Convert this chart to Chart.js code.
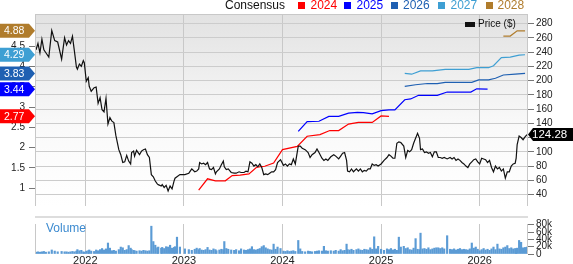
<!DOCTYPE html>
<html>
<head>
<meta charset="utf-8">
<script src="https://cdn.jsdelivr.net/npm/chart.js@4.4.0/dist/chart.umd.min.js"></script>
<style>
body{margin:0;background:#fff;font-family:Arial,"Liberation Sans",sans-serif;}
#wrap{position:relative;width:573px;height:264px;overflow:hidden}
#priceBox{position:absolute;left:0;top:0;width:573px;height:216px}
#volBox{position:absolute;left:0;top:216px;width:573px;height:48px}
#sep{position:absolute;left:35px;top:216px;width:493px;height:2px;background:#dddddd}
.lg{position:absolute;top:-1px;font-size:12px;line-height:12px;white-space:nowrap}
.sq{position:absolute;top:2px;width:7px;height:7px}
#priceLg{position:absolute;left:478px;top:19px;font-size:10px;line-height:10px;color:#111}
#priceSq{position:absolute;left:465px;top:22px;width:10px;height:5px;background:#111}
#volLabel{position:absolute;left:46px;top:222px;font-size:12px;line-height:12px;color:#3d8bd0}
</style>
</head>
<body>
<div id="wrap">
  <div id="priceBox"><canvas id="priceChart"></canvas></div>
  <div id="volBox"><canvas id="volChart"></canvas></div>
  <div id="sep"></div>
  <div id="volLabel">Volume</div>
  <div id="priceSq"></div><div id="priceLg">Price ($)</div>
  <div class="lg" style="left:225px;color:#111">Consensus</div>
  <div class="sq" style="left:298px;background:#ff0000"></div><div class="lg" style="left:310.5px;color:#ff0000">2024</div>
  <div class="sq" style="left:344px;background:#0000ff"></div><div class="lg" style="left:356.5px;color:#0000ff">2025</div>
  <div class="sq" style="left:391px;background:#1f60b2"></div><div class="lg" style="left:403px;color:#1f60b2">2026</div>
  <div class="sq" style="left:437.5px;background:#3e9fd3"></div><div class="lg" style="left:450.5px;color:#3e9fd3">2027</div>
  <div class="sq" style="left:486px;background:#b07c2c"></div><div class="lg" style="left:497.5px;color:#b07c2c">2028</div>
</div>
<script>
// weekly closes (decimal years)
const priceDates = [
2021.50,2021.52,2021.54,2021.56,2021.58,2021.60,2021.63,2021.66,2021.69,2021.72,2021.76,2021.79,
2021.81,2021.83,2021.85,2021.87,2021.89,2021.91,2021.92,2021.94,2021.96,2021.98,2021.99,
2022.01,2022.03,2022.04,2022.06,2022.09,2022.11,2022.13,2022.15,2022.17,2022.19,2022.21,2022.23,2022.25,2022.27,2022.29,2022.31,2022.34,
2022.36,2022.38,2022.40,2022.42,2022.44,2022.46,2022.47,2022.49,2022.50,2022.52,
2022.55,2022.57,2022.59,2022.61,2022.63,2022.65,
2022.67,2022.69,2022.71,2022.73,2022.74,2022.77,2022.78,2022.80,2022.82,2022.84,2022.86,2022.88,2022.90,2022.91,2022.93,2022.96,2023.01,2023.05,
2023.08,2023.11,2023.13,2023.15,2023.16,2023.18,2023.20,2023.22,2023.24,2023.26,2023.28,2023.30,2023.32,2023.33,2023.36,2023.38,
2023.40,2023.41,2023.43,2023.45,2023.48,
2023.51,2023.53,2023.56,2023.58,2023.61,2023.63,2023.65,2023.67,2023.69,2023.71,2023.73,2023.75,2023.77,2023.79,2023.81,
2023.83,2023.85,2023.87,2023.89,2023.91,2023.93,2023.95,2023.98,
2024.01,2024.03,2024.05,2024.07,2024.09,2024.11,2024.13,
2024.16,2024.18,
2024.20,2024.23,2024.26,2024.28,2024.30,2024.33,2024.35,
2024.37,2024.40,2024.42,
2024.44,2024.46,2024.49,2024.52,2024.54,2024.57,2024.59,2024.61,2024.63,
2024.65,
2024.66,2024.68,2024.70,2024.72,2024.75,2024.77,2024.79,2024.81,2024.83,2024.85,2024.87,2024.89,
2024.91,2024.93,2024.95,2024.97,
2025.00,2025.03,2025.06,2025.08,2025.10,2025.12,2025.14,2025.16,
2025.18,2025.20,2025.23,2025.25,2025.27,2025.29,2025.31,2025.33,2025.35,2025.37,2025.39,
2025.40,2025.42,
2025.44,2025.46,2025.48,2025.50,2025.52,2025.54,2025.56,2025.58,2025.60,2025.62,2025.64,2025.67,
2025.70,2025.72,2025.74,2025.76,2025.78,2025.80,2025.82,2025.84,2025.86,2025.88,2025.90,2025.92,2025.94,
2025.96,2025.98,2026.00,
2026.02,2026.04,2026.06,2026.08,2026.10,2026.12,
2026.14,2026.16,2026.18,2026.20,2026.22,2026.24,2026.26,2026.28,2026.30,2026.32,2026.34,2026.36,2026.37,2026.38,2026.40,2026.42,2026.44,2026.46,2026.48
];
const priceValues = [
243,252,239,258,243,239,233,270,256,254,230,260,
250,256,252,262,241,219,216,223,220,228,225,
199,204,192,185,190,191,168,176,159,156,175,139,148,143,141,123,103,
96,85,86,95,87,83,99,101,94,102,
96,101,103,104,96,92,
68,65,59,55,54,52,54,50,53,45,52,48,59,63,65,68,68,70,
76,72,73,76,85,83,84,82,85,76,75,78,69,72,76,82,
87,79,75,76,71,
70,70,72,71,71,73,72,86,84,80,82,79,83,78,68,
69,68,70,72,72,75,85,89,
81,83,80,83,82,90,83,
108,108,
105,103,99,92,96,99,104,
99,91,88,
90,88,93,96,94,90,94,98,99,
88,
73,72,76,72,76,73,76,72,74,73,76,76,
83,81,82,80,
83,88,92,96,94,91,91,112,
114,113,108,92,102,100,103,112,119,126,119,
103,104,
99,100,98,99,93,100,100,92,92,91,92,90,
92,90,92,88,90,88,85,83,80,78,83,86,89,
90,86,83,
91,90,89,85,88,78,
72,80,76,78,73,76,63,72,72,80,83,84,91,110,122,120,117,121,124.28
];
// volume in thousands, same weeks as priceDates
const volumeValues = [
5,6,5,6,7,5,6,11,8,6,7,6,
6,5,6,7,6,8,12,9,10,6,5,
8,9,11,8,7,11,9,12,15,11,14,30,16,9,10,8,12,
19,17,10,12,23,16,12,10,9,8,
9,8,10,9,8,9,
76,34,24,17,19,16,18,15,20,19,24,16,18,20,46,19,14,12,
10,13,16,12,15,11,10,12,18,11,10,14,12,9,11,13,
12,34,15,13,11,
10,12,9,14,11,10,12,14,20,12,11,13,15,20,23,
17,14,12,11,27,13,19,15,
8,7,9,7,8,9,7,
37,14,
7,6,8,7,6,7,8,
9,8,21,
9,8,9,8,10,8,12,9,10,
27,
12,11,13,10,12,14,11,10,13,12,11,17,
13,47,14,21,
13,10,14,12,15,11,13,10,
46,19,21,15,17,12,11,16,42,13,12,
57,14,
15,13,17,12,14,16,17,17,15,17,14,50,
13,12,14,11,13,15,12,13,12,11,14,30,16,
19,13,9,
12,15,11,13,10,14,
19,12,27,14,13,17,19,23,15,17,14,15,14,16,37,32,17,18,19
];

// consensus EPS estimates per fiscal year
const eps2024Dates = [2023.15,2023.24,2023.32,2023.42,2023.49,2023.57,2023.66,2023.74,2023.82,2023.91,2024.00,2024.15,2024.25,2024.38,2024.48,2024.57,2024.67,2024.77,2024.91,2025.00,2025.08];
const eps2024Values = [0.95,1.23,1.18,1.18,1.31,1.32,1.35,1.52,1.54,1.62,1.95,2.03,2.28,2.32,2.42,2.42,2.58,2.62,2.62,2.78,2.77];
const eps2025Dates = [2024.16,2024.25,2024.37,2024.47,2024.57,2024.67,2024.76,2024.82,2024.91,2025.00,2025.08,2025.14,2025.24,2025.30,2025.38,2025.57,2025.67,2025.91,2025.97,2026.08];
const eps2025Values = [2.40,2.64,2.65,2.77,2.77,2.85,2.87,2.86,2.83,2.91,2.93,2.93,3.18,3.20,3.29,3.29,3.37,3.37,3.45,3.44];
const eps2026Dates = [2025.24,2025.35,2025.47,2025.57,2025.65,2025.92,2025.99,2026.09,2026.16,2026.24,2026.36,2026.46];
const eps2026Values = [3.51,3.55,3.58,3.58,3.61,3.61,3.67,3.67,3.71,3.79,3.81,3.83];
const eps2027Dates = [2025.24,2025.31,2025.40,2025.52,2025.65,2025.89,2025.97,2026.09,2026.14,2026.22,2026.31,2026.40,2026.46];
const eps2027Values = [3.83,3.81,3.89,3.89,3.93,3.93,3.97,3.97,4.02,4.22,4.23,4.28,4.29];
const eps2028Dates = [2026.24,2026.31,2026.38,2026.46];
const eps2028Values = [4.75,4.75,4.88,4.88];

const priceTicks = [40,60,80,100,120,140,160,180,200,220,240,260,280];
const epsTicks = [1,1.5,2,2.5,3,3.5,4,4.5];
const volumeTicks = [0,20,40,60,80];
const yearTicks = [2022,2023,2024,2025,2026];

const X_MIN = 2021.49, X_MAX = 2026.49;
const FONT = 'Arial, "Liberation Sans", sans-serif';
Chart.defaults.font.family = FONT;
Chart.defaults.font.size = 10;
Chart.defaults.color = '#333';

const consensus = [
  {label:'2024', dates:eps2024Dates, values:eps2024Values, color:'#ff0000'},
  {label:'2025', dates:eps2025Dates, values:eps2025Values, color:'#0000ff'},
  {label:'2026', dates:eps2026Dates, values:eps2026Values, color:'#1f60b2'},
  {label:'2027', dates:eps2027Dates, values:eps2027Values, color:'#3e9fd3'},
  {label:'2028', dates:eps2028Dates, values:eps2028Values, color:'#b07c2c'}
];

const pairs = (xs, ys) => xs.map((x, i) => ({x: x, y: ys[i]}));
const fixTicks = list => scale => { scale.ticks = list.map(v => ({value: v})); };

const backPlugin = {
  id: 'back',
  beforeDraw(chart) {
    const a = chart.chartArea, ctx = chart.ctx;
    if (chart.canvas.id === 'priceChart') {
      const g = ctx.createLinearGradient(0, a.top, 0, a.bottom);
      g.addColorStop(0, '#e2e2e2');
      g.addColorStop(0.6, '#fafafa');
      g.addColorStop(1, '#ffffff');
      ctx.fillStyle = g;
      ctx.fillRect(a.left, a.top, a.right - a.left, a.bottom - a.top);
    }
  },
  afterDraw(chart) {
    const a = chart.chartArea, ctx = chart.ctx;
    ctx.save();
    ctx.strokeStyle = '#c8c8c8';
    ctx.lineWidth = 1;
    ctx.beginPath();
    ctx.moveTo(Math.round(a.left) + 0.5, a.top);
    ctx.lineTo(Math.round(a.left) + 0.5, a.bottom);
    ctx.moveTo(Math.round(a.right) - 0.5, a.top);
    ctx.lineTo(Math.round(a.right) - 0.5, a.bottom);
    if (chart.canvas.id === 'priceChart') {
      ctx.moveTo(a.left, Math.round(a.top) + 0.5);
      ctx.lineTo(a.right, Math.round(a.top) + 0.5);
    }
    ctx.stroke();
    ctx.restore();
  }
};

const tagPlugin = {
  id: 'tags',
  afterDraw(chart) {
    const ctx = chart.ctx, a = chart.chartArea;
    const eps = chart.scales.eps, price = chart.scales.price;
    ctx.save();
    ctx.textBaseline = 'middle';
    ctx.textAlign = 'left';
    ctx.font = '10.5px ' + FONT;
    consensus.forEach(c => {
      const v = c.values[c.values.length - 1];
      const y = eps.getPixelForValue(v);
      ctx.fillStyle = c.color;
      ctx.beginPath();
      ctx.moveTo(0, y - 7);
      ctx.lineTo(a.left - 6, y - 7);
      ctx.lineTo(a.left, y);
      ctx.lineTo(a.left - 6, y + 7);
      ctx.lineTo(0, y + 7);
      ctx.closePath();
      ctx.fill();
      ctx.fillStyle = '#fff';
      ctx.fillText(v.toFixed(2), 4, y + 0.5);
    });
    const last = priceValues[priceValues.length - 1];
    const py = price.getPixelForValue(last);
    ctx.fillStyle = '#000';
    ctx.beginPath();
    ctx.moveTo(a.right, py);
    ctx.lineTo(a.right + 5, py - 6.5);
    ctx.lineTo(573, py - 6.5);
    ctx.lineTo(573, py + 6.5);
    ctx.lineTo(a.right + 5, py + 6.5);
    ctx.closePath();
    ctx.fill();
    ctx.fillStyle = '#fff';
    ctx.font = '11.5px ' + FONT;
    ctx.fillText(last.toFixed(2), 532, py + 0.5);
    ctx.restore();
  }
};

const datasets = [{
  label: 'Price ($)',
  data: pairs(priceDates, priceValues),
  yAxisID: 'price',
  borderColor: '#111',
  borderWidth: 1.2,
  pointRadius: 0,
  tension: 0
}];
consensus.forEach(c => datasets.push({
  label: c.label,
  data: pairs(c.dates, c.values),
  yAxisID: 'eps',
  borderColor: c.color,
  borderWidth: 1.2,
  pointRadius: 0,
  tension: 0
}));

new Chart(document.getElementById('priceChart'), {
  type: 'line',
  data: {datasets: datasets},
  plugins: [backPlugin, tagPlugin],
  options: {
    responsive: true,
    maintainAspectRatio: false,
    animation: false,
    layout: {padding: {top: 14, bottom: 0, left: 0, right: 0}},
    plugins: {legend: {display: false}, tooltip: {enabled: false}},
    scales: {
      x: {
        type: 'linear', min: X_MIN, max: X_MAX,
        afterBuildTicks: fixTicks(yearTicks),
        afterFit: s => { s.height = 0; },
        ticks: {display: false},
        grid: {color: '#c8c8c8', drawTicks: false},
        border: {display: false}
      },
      eps: {
        type: 'linear', position: 'left', min: 0.559, max: 5.295,
        afterBuildTicks: fixTicks(epsTicks),
        afterFit: s => { s.width = 35; },
        ticks: {padding: 4, color: '#222', autoSkip: false, callback: v => String(v)},
        grid: {drawOnChartArea: false, tickLength: 6, color: '#777'},
        border: {display: false}
      },
      price: {
        type: 'linear', position: 'right', min: 24, max: 293.33,
        afterBuildTicks: fixTicks(priceTicks),
        afterFit: s => { s.width = 45; },
        ticks: {padding: 2, color: '#222', autoSkip: false},
        grid: {color: '#cccccc', tickLength: 6, tickColor: '#777'},
        border: {display: false}
      }
    }
  }
});

new Chart(document.getElementById('volChart'), {
  type: 'bar',
  data: {datasets: [{
    label: 'Volume',
    data: pairs(priceDates, volumeValues),
    backgroundColor: '#5b9bd5',
    barThickness: 1.5,
    yAxisID: 'vol'
  }]},
  plugins: [backPlugin],
  options: {
    responsive: true,
    maintainAspectRatio: false,
    animation: false,
    layout: {padding: {top: 2, bottom: 0, left: 35, right: 0}},
    plugins: {legend: {display: false}, tooltip: {enabled: false}},
    scales: {
      x: {
        type: 'linear', min: X_MIN, max: X_MAX, offset: false,
        afterBuildTicks: fixTicks(yearTicks),
        afterFit: s => { s.height = 10; },
        ticks: {padding: 0, font: {size: 11}, color: '#222', callback: v => String(v)},
        grid: {color: '#c8c8c8', drawTicks: false, offset: false},
        border: {display: false}
      },
      vol: {
        type: 'linear', position: 'right', min: 0, max: 82,
        afterBuildTicks: fixTicks(volumeTicks),
        afterFit: s => { s.width = 45; },
        ticks: {padding: 2, color: '#222', autoSkip: false, callback: v => v === 0 ? '0' : v + 'k'},
        grid: {drawOnChartArea: false, tickLength: 6, color: '#777'},
        border: {display: false}
      }
    }
  }
});
</script>
</body>
</html>
